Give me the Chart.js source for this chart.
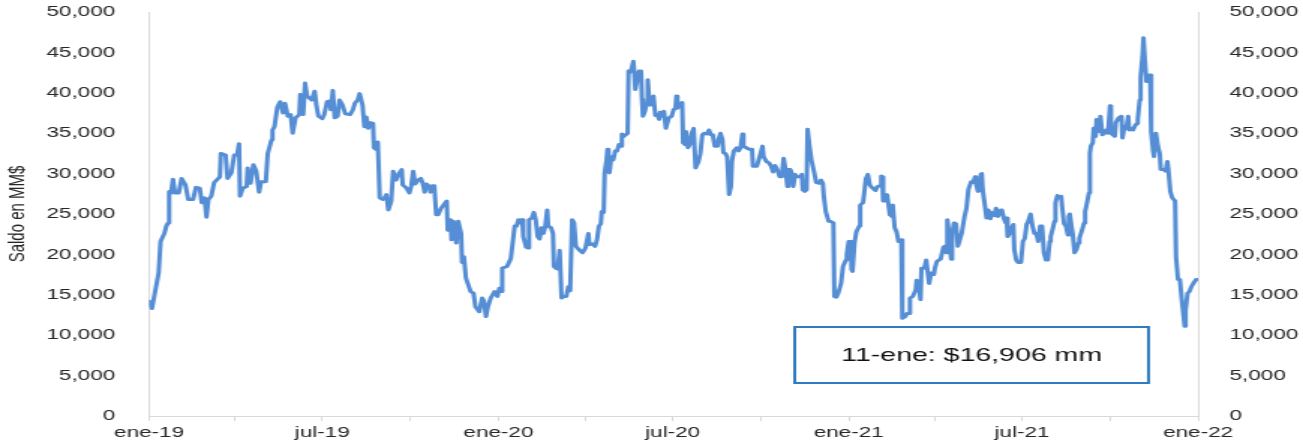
<!DOCTYPE html>
<html>
<head>
<meta charset="utf-8">
<script src="https://cdn.jsdelivr.net/npm/chart.js"></script>
<style>
  body { margin: 0; background: #fff; }
</style>
</head>
<body>
<!-- lienzo de 869 px estirado a 1303 px, como la imagen original -->
<canvas id="c" width="869" height="444" style="display:block;width:1303px;height:444px"></canvas>
<script>
// Saldo diario (MM$), fechas y valores en paralelo
const dates = [
  '2019-01-11','2019-01-14','2019-01-17','2019-01-21','2019-01-23','2019-01-27','2019-01-29','2019-01-31',
  '2019-02-01','2019-02-03','2019-02-05','2019-02-07','2019-02-11','2019-02-14','2019-02-18','2019-02-21','2019-02-26',
  '2019-03-01','2019-03-05','2019-03-07','2019-03-10','2019-03-12','2019-03-14','2019-03-17','2019-03-20','2019-03-26','2019-03-27',
  '2019-04-01','2019-04-03','2019-04-07','2019-04-10','2019-04-13','2019-04-15','2019-04-16','2019-04-19','2019-04-23','2019-04-24','2019-04-27','2019-04-30',
  '2019-05-03','2019-05-06','2019-05-08','2019-05-13','2019-05-15','2019-05-19','2019-05-20','2019-05-22','2019-05-25','2019-05-28','2019-05-31',
  '2019-06-02','2019-06-05','2019-06-08','2019-06-10','2019-06-13','2019-06-17','2019-06-18','2019-06-21','2019-06-23','2019-06-25','2019-06-30',
  '2019-07-03','2019-07-05','2019-07-07','2019-07-11','2019-07-13','2019-07-16','2019-07-19','2019-07-20','2019-07-22','2019-07-24','2019-07-27','2019-07-29',
  '2019-08-01','2019-08-04','2019-08-09','2019-08-12','2019-08-14','2019-08-17','2019-08-19','2019-08-22','2019-08-24','2019-08-26','2019-08-28','2019-08-30',
  '2019-09-02','2019-09-03','2019-09-05','2019-09-07','2019-09-09','2019-09-12','2019-09-14','2019-09-16','2019-09-18','2019-09-21','2019-09-23','2019-09-26','2019-09-29',
  '2019-10-02','2019-10-03','2019-10-07','2019-10-10','2019-10-12','2019-10-14','2019-10-16','2019-10-19','2019-10-22','2019-10-24','2019-10-26','2019-10-28','2019-10-31',
  '2019-11-01','2019-11-03','2019-11-05','2019-11-07','2019-11-09','2019-11-12','2019-11-16','2019-11-18','2019-11-19','2019-11-22','2019-11-23','2019-11-25','2019-11-28','2019-11-30',
  '2019-12-03','2019-12-04','2019-12-06','2019-12-08','2019-12-10','2019-12-13','2019-12-16','2019-12-18','2019-12-22','2019-12-25','2019-12-27','2019-12-29','2019-12-31',
  '2020-01-03','2020-01-07','2020-01-10','2020-01-12','2020-01-14','2020-01-15','2020-01-20','2020-01-22','2020-01-24','2020-01-28','2020-01-30',
  '2020-02-01','2020-02-03','2020-02-05','2020-02-06','2020-02-09','2020-02-11','2020-02-12','2020-02-15','2020-02-17','2020-02-19','2020-02-21','2020-02-23','2020-02-25','2020-02-27','2020-02-29',
  '2020-03-02','2020-03-03','2020-03-06','2020-03-08','2020-03-09','2020-03-11','2020-03-13','2020-03-15','2020-03-17','2020-03-19','2020-03-22','2020-03-24','2020-03-26','2020-03-27','2020-03-28','2020-03-30',
  '2020-04-01','2020-04-04','2020-04-08','2020-04-11','2020-04-14','2020-04-15','2020-04-18','2020-04-21','2020-04-23','2020-04-25','2020-04-27','2020-04-28','2020-04-30',
  '2020-05-01','2020-05-03','2020-05-04','2020-05-05','2020-05-06','2020-05-08','2020-05-10','2020-05-12','2020-05-14','2020-05-16','2020-05-18','2020-05-19','2020-05-21','2020-05-25','2020-05-26','2020-05-27','2020-05-29','2020-05-31',
  '2020-06-01','2020-06-02','2020-06-04','2020-06-06','2020-06-08','2020-06-09','2020-06-10','2020-06-12','2020-06-14','2020-06-15','2020-06-17','2020-06-20','2020-06-21','2020-06-23','2020-06-25','2020-06-27','2020-06-28','2020-06-30',
  '2020-07-02','2020-07-04','2020-07-07','2020-07-10','2020-07-12','2020-07-14','2020-07-15','2020-07-16','2020-07-18','2020-07-21','2020-07-22','2020-07-24','2020-07-25','2020-07-27','2020-07-29','2020-07-31',
  '2020-08-02','2020-08-04','2020-08-07','2020-08-09','2020-08-11','2020-08-13','2020-08-16','2020-08-18','2020-08-20','2020-08-22','2020-08-24','2020-08-27','2020-08-28','2020-08-30',
  '2020-09-01','2020-09-02','2020-09-04','2020-09-06','2020-09-08','2020-09-10','2020-09-11','2020-09-13','2020-09-16','2020-09-18','2020-09-20','2020-09-22','2020-09-23','2020-09-26','2020-09-29',
  '2020-10-02','2020-10-03','2020-10-07','2020-10-09','2020-10-11','2020-10-13','2020-10-14','2020-10-17','2020-10-20','2020-10-22','2020-10-24','2020-10-26','2020-10-28','2020-10-31',
  '2020-11-02','2020-11-04','2020-11-06','2020-11-08','2020-11-09','2020-11-11','2020-11-13','2020-11-14','2020-11-16','2020-11-18','2020-11-20','2020-11-21','2020-11-23','2020-11-24','2020-11-26','2020-11-28','2020-11-29',
  '2020-12-01','2020-12-03','2020-12-06','2020-12-08','2020-12-11','2020-12-13','2020-12-15','2020-12-16','2020-12-18','2020-12-21','2020-12-23','2020-12-26','2020-12-27','2020-12-29','2020-12-31',
  '2021-01-03','2021-01-05','2021-01-08','2021-01-09','2021-01-11','2021-01-13','2021-01-14','2021-01-15','2021-01-17','2021-01-19','2021-01-22','2021-01-23','2021-01-26','2021-01-29','2021-01-31',
  '2021-02-02','2021-02-05','2021-02-08','2021-02-10','2021-02-13','2021-02-14','2021-02-15','2021-02-16','2021-02-18','2021-02-20','2021-02-21','2021-02-23','2021-02-25','2021-02-26','2021-02-28',
  '2021-03-02','2021-03-04','2021-03-07','2021-03-08','2021-03-11','2021-03-13','2021-03-15','2021-03-16','2021-03-19','2021-03-22','2021-03-23','2021-03-25','2021-03-27','2021-03-28','2021-03-31',
  '2021-04-02','2021-04-05','2021-04-07','2021-04-10','2021-04-11','2021-04-13','2021-04-15','2021-04-17','2021-04-20','2021-04-21','2021-04-23','2021-04-24','2021-04-26','2021-04-28','2021-04-29',
  '2021-05-01','2021-05-03','2021-05-05','2021-05-07','2021-05-09','2021-05-11','2021-05-12','2021-05-14','2021-05-16','2021-05-17','2021-05-19','2021-05-21','2021-05-23','2021-05-24','2021-05-26','2021-05-28','2021-05-29','2021-05-30','2021-05-31',
  '2021-06-02','2021-06-04','2021-06-06','2021-06-08','2021-06-09','2021-06-12','2021-06-14','2021-06-16','2021-06-19','2021-06-20','2021-06-22','2021-06-24','2021-06-25','2021-06-26','2021-06-28','2021-06-30',
  '2021-07-02','2021-07-03','2021-07-05','2021-07-07','2021-07-10','2021-07-12','2021-07-14','2021-07-16','2021-07-17','2021-07-20','2021-07-22','2021-07-24','2021-07-26','2021-07-28','2021-07-30',
  '2021-08-01','2021-08-03','2021-08-05','2021-08-07','2021-08-09','2021-08-10','2021-08-12','2021-08-14','2021-08-15','2021-08-17','2021-08-19','2021-08-21','2021-08-22','2021-08-24','2021-08-26','2021-08-28','2021-08-29','2021-08-30',
  '2021-09-01','2021-09-02','2021-09-04','2021-09-06','2021-09-08','2021-09-09','2021-09-12','2021-09-14','2021-09-15','2021-09-17','2021-09-19','2021-09-20','2021-09-21','2021-09-23','2021-09-24','2021-09-26','2021-09-27','2021-09-29',
  '2021-10-01','2021-10-03','2021-10-05','2021-10-07','2021-10-09','2021-10-11','2021-10-12','2021-10-14','2021-10-16','2021-10-17','2021-10-20','2021-10-23','2021-10-24','2021-10-26','2021-10-28','2021-10-30','2021-10-31',
  '2021-11-02','2021-11-04','2021-11-06','2021-11-08','2021-11-09','2021-11-11','2021-11-12','2021-11-14','2021-11-15','2021-11-16','2021-11-18','2021-11-19','2021-11-21','2021-11-22','2021-11-23','2021-11-25','2021-11-26','2021-11-28','2021-11-30',
  '2021-12-02','2021-12-03','2021-12-06','2021-12-08','2021-12-10','2021-12-11','2021-12-13','2021-12-15','2021-12-18','2021-12-19','2021-12-21','2021-12-23','2021-12-25','2021-12-28','2021-12-29','2021-12-31',
  '2022-01-02','2022-01-04','2022-01-06','2022-01-09','2022-01-11'
];

const saldo = [
  14200,13300,15200,17700,21600,22600,23500,23900,
  27800,27600,29300,27600,27600,29400,28600,26800,26800,
  28300,28200,26400,27000,24600,26800,27200,28900,29600,32500,
  32300,29400,30100,32300,32300,33700,27200,28200,28400,30700,28800,31100,
  30300,27700,29000,29000,32500,34200,35400,35800,38200,38900,37500,
  38700,37100,37300,35000,36900,37300,39800,37300,41200,39600,39100,
  40200,38300,37100,36800,37300,38900,39000,37900,40300,36900,37100,39100,
  38500,37400,37300,37900,38700,39100,39900,38500,35800,37000,35600,36300,
  36200,33200,33000,33900,27000,26800,27000,27400,25500,26600,30300,29200,30000,
  30500,28600,28200,27600,28500,30300,28700,29200,29400,28800,27700,28700,28400,
  27700,28500,28500,24900,24900,25700,26300,26600,23000,24300,21800,24100,21400,24100,
  22600,19000,19700,17100,16400,15400,15200,13500,12900,14600,14200,12300,13500,
  14600,15400,14800,15800,15400,18300,18500,19000,19500,23500,23500,
  24300,23900,24300,22200,20900,20800,24300,24500,25200,24300,22200,21900,23300,22600,23500,
  25500,23500,23300,22600,18500,18300,18200,20500,14600,14800,14800,16000,15500,15500,24300,23900,
  21000,20600,20200,20800,22600,21200,21300,21000,21800,23500,23800,25300,25200,
  30100,31700,33000,30200,30100,32100,31700,32800,32800,33600,33400,34900,34600,35000,42700,42500,42900,43900,
  42500,40400,41600,42700,42700,39200,37100,37700,38700,41600,38500,38500,39600,37200,37300,36700,37600,37100,
  37700,35600,36900,37100,37900,38100,39600,38100,38500,38800,33800,33600,35200,33200,33600,35000,
  35600,30700,31500,32500,34800,35000,34900,35400,34800,34800,33400,33400,34200,35000,
  34200,32600,32500,32100,27400,28400,31500,32800,33200,32800,33200,34900,33400,33200,33000,
  33000,30900,30900,31700,32500,33400,32100,31500,31300,30900,30200,31000,30600,29600,
  29600,31900,30500,28400,30500,30500,29900,28400,29900,29600,29600,29600,29900,28000,27800,28000,35500,
  33400,31700,30100,28900,28800,29200,28800,27200,25300,24100,24100,23900,14800,14700,15200,
  16400,18500,19300,20000,21600,21600,18100,17900,21400,22800,23500,26100,26400,29400,29900,
  28600,28200,27900,28400,28500,29700,29600,26600,26600,27400,26600,24900,24700,26100,23300,
  22800,21600,21800,12100,12300,12700,12700,14600,14800,15600,16800,16400,14400,18300,18300,
  19300,16400,17700,17500,18300,19100,19300,19400,20900,21000,20200,24300,22200,19400,22600,
  23900,23800,21000,21800,22600,24000,24700,25700,28000,28400,29000,28900,29600,28800,27800,27900,29900,30000,28000,
  26300,24500,25500,24400,25200,24800,25700,24700,25500,25500,24500,23900,24500,22200,22600,23300,
  23700,20600,19300,19000,19000,21600,22000,23800,23900,25000,23500,22600,22600,21600,23500,
  23500,20200,19300,19300,21600,22200,23100,24100,26400,27300,27000,27200,25900,23800,23500,22400,24700,25000,
  23300,22600,20200,20600,21400,22000,23100,23900,25300,26400,27600,32500,33400,33800,35600,34600,36700,35200,
  37100,34800,35000,35400,35000,38400,35000,34800,34600,36300,36900,37100,34400,35800,35600,37100,35400,
  35600,35400,35900,36200,36700,39100,42000,44500,46800,44900,41400,41400,42200,42200,35200,32800,32100,35000,33400,
  32500,30500,30500,30300,31500,30500,27800,27000,26600,19700,16900,16900,14400,11100,13100,15200,
  15400,16000,16400,16900,16906
];

// marcas del eje x (trimestrales), etiqueta sólo en ene/jul
const tickDates = ['2019-01-11','2019-04-11','2019-07-11','2019-10-11','2020-01-11','2020-04-11','2020-07-11',
  '2020-10-11','2021-01-11','2021-04-11','2021-07-11','2021-10-11','2022-01-11'];
const tickLabels = ['ene-19','','jul-19','','ene-20','','jul-20','','ene-21','','jul-21','','ene-22'];

if (dates.length !== saldo.length) throw new Error('dates/saldo: ' + dates.length + ' vs ' + saldo.length);

const t0 = Date.parse(dates[0]);
const dayOf = d => (Date.parse(d) - t0) / 864e5;
const points = dates.map((d, i) => ({ x: dayOf(d), y: saldo[i] }));
const tickDays = tickDates.map(dayOf);

const FONT = '"Liberation Sans", Arial, sans-serif';
const TXT = '#262626';
const AXIS = '#d9d9d9';

// recuadro con el último dato
const lastLabel = '11-ene: $' + saldo[saldo.length - 1].toLocaleString('en-US') + ' mm';
const notePlugin = {
  id: 'note',
  afterDraw(chart) {
    const ctx = chart.ctx;
    const x = 530, y = 327, w = 236, h = 56;
    ctx.save();
    ctx.fillStyle = '#fff';
    ctx.fillRect(x, y, w, h);
    ctx.strokeStyle = '#2f7bc0';
    ctx.lineWidth = 2;
    ctx.strokeRect(x, y, w, h);
    ctx.font = '19px ' + FONT;
    ctx.fillStyle = '#111';
    ctx.textAlign = 'center';
    ctx.textBaseline = 'middle';
    ctx.fillText(lastLabel, x + w / 2, y + h / 2 + 1);
    ctx.restore();
  }
};

const yTicks = {
  stepSize: 5000,
  color: TXT,
  font: { family: FONT, size: 15 },
  callback: v => v.toLocaleString('en-US')
};

// ancho fijo del eje y sin reservar margen arriba/abajo para las etiquetas
const fixY = w => s => { s.width = w; s.paddingTop = 0; s.paddingBottom = 0; };

new Chart(document.getElementById('c'), {
  type: 'line',
  data: {
    datasets: [{
      data: points,
      borderColor: '#558ed5',
      borderWidth: 3,
      pointRadius: 0,
      tension: 0,
      fill: false,
      borderJoinStyle: 'round',
      borderCapStyle: 'round'
    }]
  },
  options: {
    responsive: false,
    devicePixelRatio: 1,
    animation: false,
    layout: { padding: { top: 12, left: 0, right: 0, bottom: 0 } },
    plugins: { legend: { display: false }, tooltip: { enabled: false } },
    scales: {
      x: {
        type: 'linear',
        position: 'bottom',
        min: 0,
        max: tickDays[tickDays.length - 1],
        afterBuildTicks: s => { s.ticks = tickDays.map(v => ({ value: v })); },
        afterFit: s => { s.height = 28; },
        grid: { drawOnChartArea: false, drawTicks: true, tickLength: 5, color: AXIS },
        border: { color: AXIS, width: 1 },
        ticks: {
          autoSkip: false, maxRotation: 0, minRotation: 0, padding: 3,
          color: TXT, font: { family: FONT, size: 15 },
          callback: (v, i) => tickLabels[i]
        }
      },
      y: {
        position: 'left',
        min: 0, max: 50000,
        afterFit: fixY(99.4),
        grid: { display: false },
        border: { color: AXIS, width: 1 },
        ticks: Object.assign({ padding: 14.5 }, yTicks),
        title: {
          display: true, text: 'Saldo en MM$', color: TXT,
          font: { family: FONT, size: 15 }, padding: { top: 3, bottom: 0 }
        }
      },
      y2: {
        position: 'right',
        min: 0, max: 50000,
        afterFit: fixY(70),
        grid: { display: false },
        border: { color: AXIS, width: 1 },
        ticks: Object.assign({ padding: 13 }, yTicks)
      }
    }
  },
  plugins: [notePlugin]
});
</script>
</body>
</html>
